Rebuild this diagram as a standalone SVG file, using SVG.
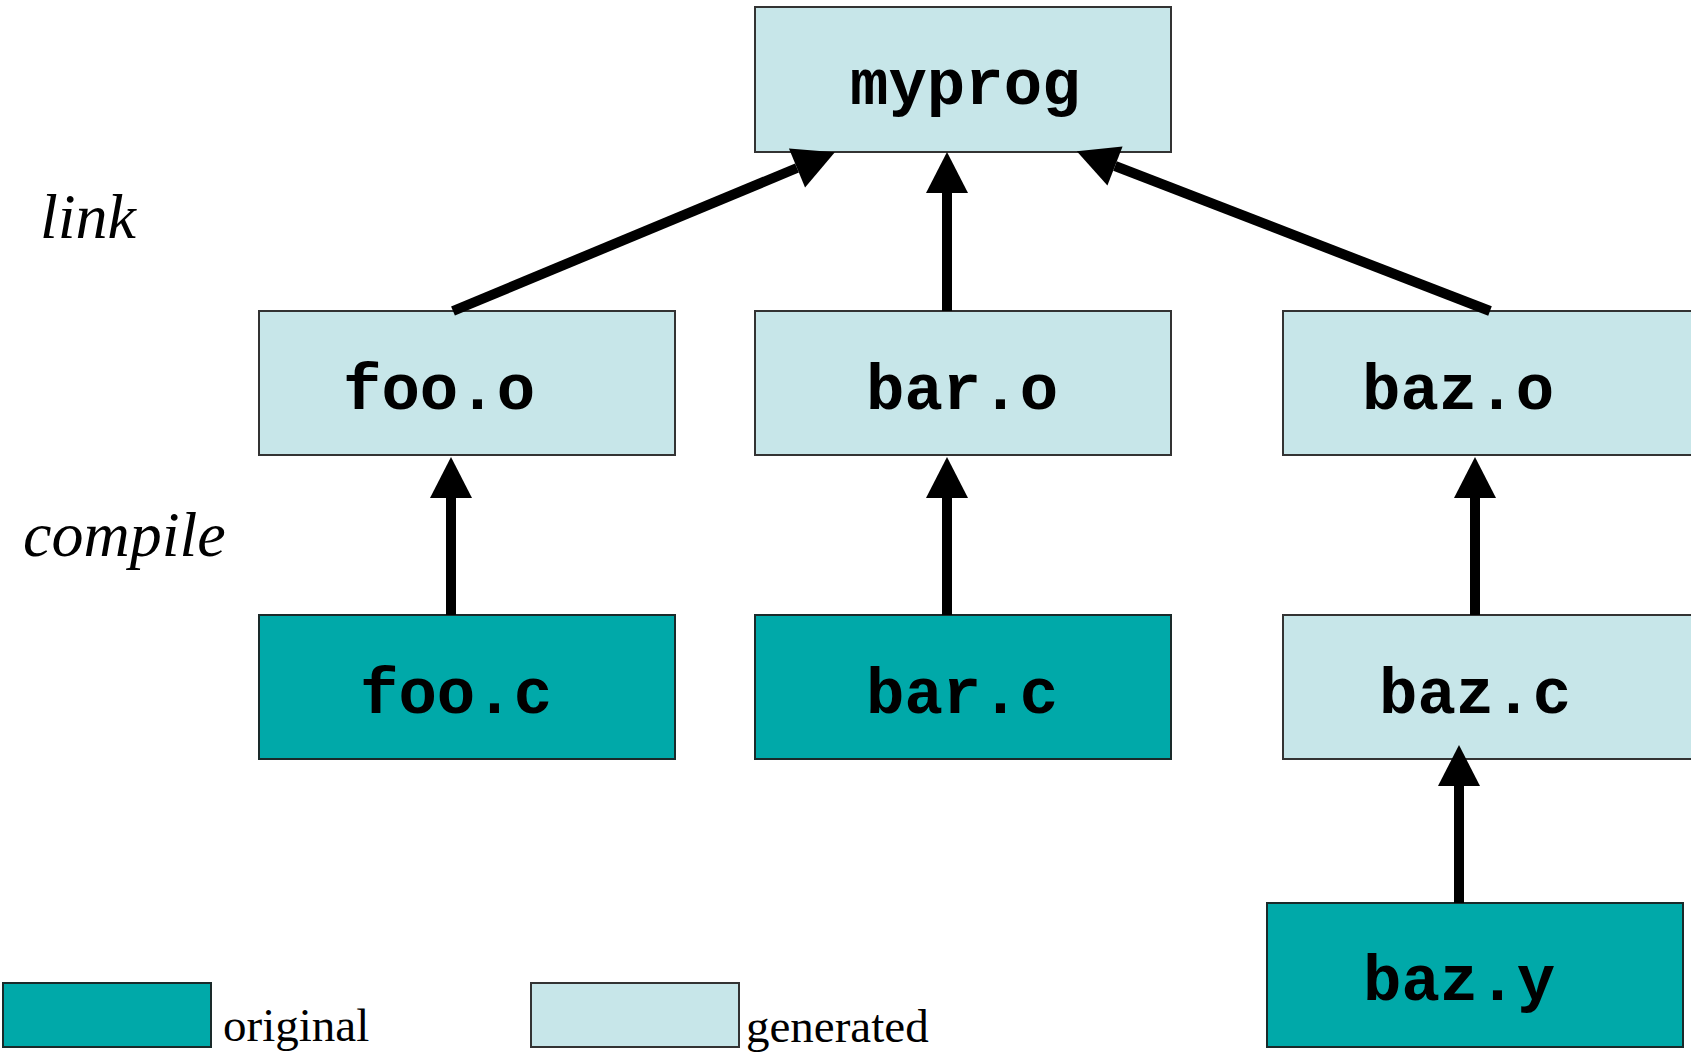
<svg xmlns="http://www.w3.org/2000/svg" width="1691" height="1052" viewBox="0 0 1691 1052">
<style>
.gen{fill:#C7E6E9;stroke:#333;stroke-width:2}
.orig{fill:#00A9A9;stroke:#1a2a2a;stroke-width:2}
.lbl{font-family:"Liberation Mono","Courier New",monospace;font-weight:bold;font-size:64px;fill:#000}
.step{font-family:"Liberation Serif","Times New Roman",serif;font-style:italic;font-size:64px;fill:#000}
.leg{font-family:"Liberation Serif","Times New Roman",serif;font-size:47px;fill:#000}
.edge{stroke:#000;stroke-width:10;fill:none;marker-end:url(#ah)}
</style>
<defs>
<marker id="ah" markerUnits="userSpaceOnUse" markerWidth="42" markerHeight="42" refX="0" refY="21" orient="auto" overflow="visible">
<path d="M0,0 L41,21 L0,42 Z" fill="#000"/>
</marker>
</defs>
<rect width="1691" height="1052" fill="#fff"/>
<g id="myprog"><rect class="gen" x="755" y="7" width="416" height="145"/><text class="lbl" x="850" y="104">myprog</text></g>
<g id="foo_o"><rect class="gen" x="259" y="311" width="416" height="144"/><text class="lbl" x="343" y="409">foo.o</text></g>
<g id="bar_o"><rect class="gen" x="755" y="311" width="416" height="144"/><text class="lbl" x="866" y="409">bar.o</text></g>
<g id="baz_o"><rect class="gen" x="1283" y="311" width="416" height="144"/><text class="lbl" x="1362" y="409">baz.o</text></g>
<g id="foo_c"><rect class="orig" x="259" y="615" width="416" height="144"/><text class="lbl" x="360" y="713">foo.c</text></g>
<g id="bar_c"><rect class="orig" x="755" y="615" width="416" height="144"/><text class="lbl" x="866" y="713">bar.c</text></g>
<g id="baz_c"><rect class="gen" x="1283" y="615" width="416" height="144"/><text class="lbl" x="1379" y="713">baz.c</text></g>
<g id="baz_y"><rect class="orig" x="1267" y="903" width="416" height="144"/><text class="lbl" x="1363" y="1000">baz.y</text></g>
<g id="labels">
<text class="step" x="40" y="238">link</text>
<text class="step" x="23" y="556">compile</text>
</g>
<g id="legend">
<rect class="orig" x="3" y="983" width="208" height="64"/>
<text class="leg" x="223" y="1041">original</text>
<rect class="gen" x="531" y="983" width="208" height="64"/>
<text class="leg" x="746" y="1042">generated</text>
</g>
<g id="connectors">
<line class="edge" x1="453" y1="311" x2="797" y2="168"/>
<line class="edge" x1="947" y1="311" x2="947" y2="193"/>
<line class="edge" x1="1490" y1="311" x2="1115" y2="166"/>
<line class="edge" x1="451" y1="615" x2="451" y2="498"/>
<line class="edge" x1="947" y1="615" x2="947" y2="498"/>
<line class="edge" x1="1475" y1="615" x2="1475" y2="498"/>
<line class="edge" x1="1459" y1="903" x2="1459" y2="786"/>
</g>
</svg>
